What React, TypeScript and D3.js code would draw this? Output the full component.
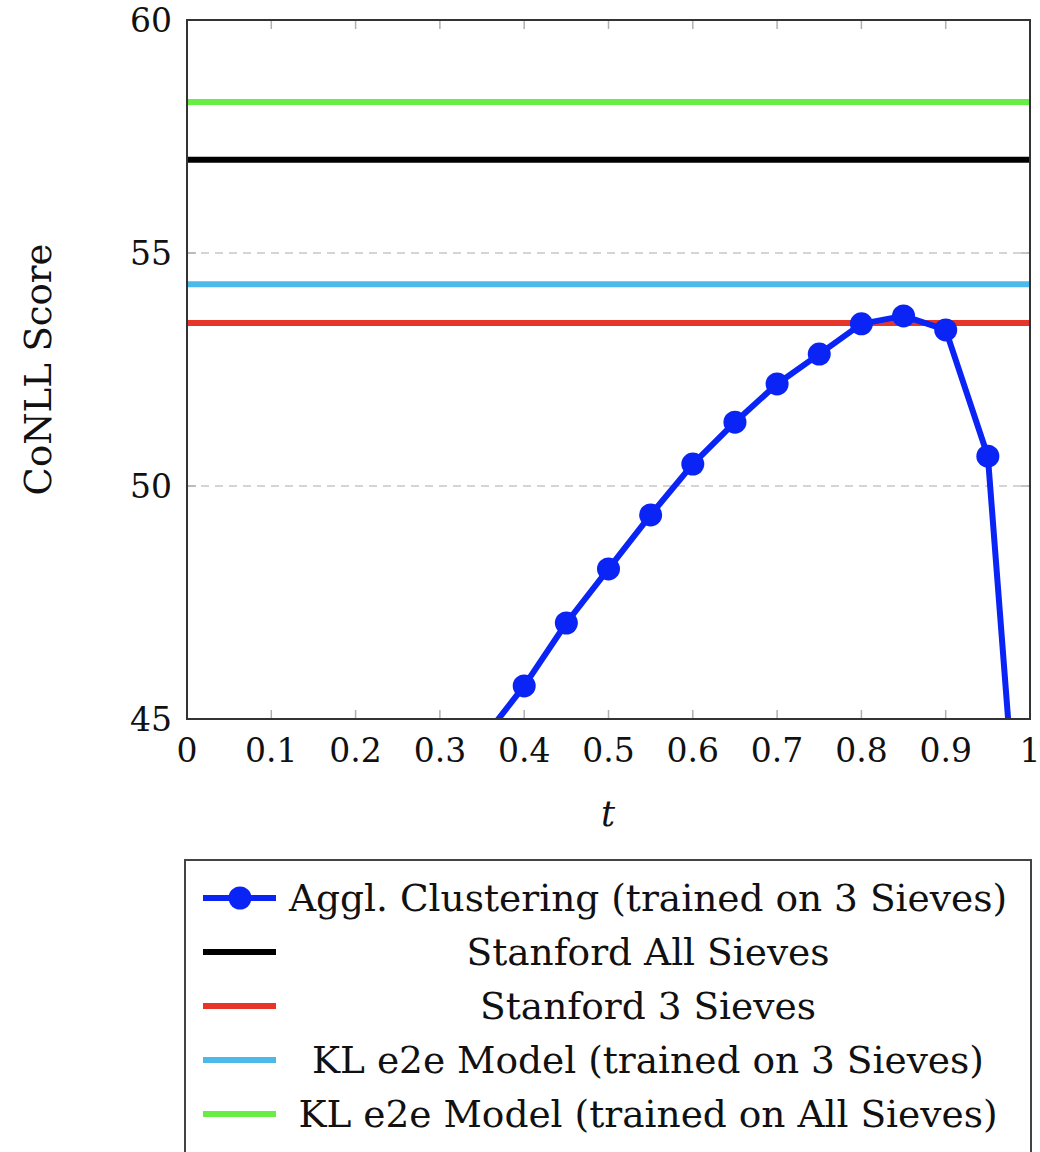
import React from "react";
import * as d3 from "d3";

const tValues = [0.3, 0.35, 0.4, 0.45, 0.5, 0.55, 0.6, 0.65, 0.7, 0.75, 0.8, 0.85, 0.9, 0.95, 1.0];
const agglScores = [43.3, 44.55, 45.71, 47.06, 48.22, 49.38, 50.47, 51.37, 52.19, 52.83, 53.48, 53.65, 53.35, 50.64, 38.9];

const baselineNames = [
  "Stanford All Sieves",
  "Stanford 3 Sieves",
  "KL e2e Model (trained on 3 Sieves)",
  "KL e2e Model (trained on All Sieves)",
];
const baselineValues = [57.0, 53.5, 54.33, 58.24];
const baselineColors = ["#000000", "#e8352a", "#4db8ea", "#66ee44"];

const agglName = "Aggl. Clustering (trained on 3 Sieves)";
const agglColor = "#0a24f5";

const xTicks = [0, 0.1, 0.2, 0.3, 0.4, 0.5, 0.6, 0.7, 0.8, 0.9, 1];
const yTicks = [45, 50, 55, 60];
const gridValues = [50, 55];

const FONT = "DejaVu Serif";

export default function App() {
  const W = 1040, H = 1152;
  const left = 187, right = 1030, top = 20, bottom = 719;
  const x = d3.scaleLinear().domain([0, 1]).range([left, right]);
  const y = d3.scaleLinear().domain([45, 60]).range([bottom, top]);
  const line = d3.line<number>().x((_, i) => x(tValues[i])).y((d) => y(d));
  const pathD = line(agglScores) || "";

  const legendItems = [
    { name: agglName, color: agglColor, marker: true },
    ...baselineNames.map((n, i) => ({ name: n, color: baselineColors[i], marker: false })),
  ];
  const legendY0 = 898;
  const legendStep = 54;
  const ts = { fontFamily: FONT };

  return (
    <svg width={W} height={H} style={{ position: "absolute", left: 0, top: 0, background: "#fff" }}>
      <defs>
        <clipPath id="plotclip">
          <rect x={left} y={top} width={right - left} height={bottom - top} />
        </clipPath>
      </defs>
      {gridValues.map((v) => (
        <line key={"g" + v} x1={left} x2={right} y1={y(v)} y2={y(v)} stroke="#c8c8c8" strokeWidth={1.5} strokeDasharray="8,6" />
      ))}
      {xTicks.slice(1, -1).map((t) => (
        <g key={"xt" + t} stroke="#b0b0b0" strokeWidth={1.5}>
          <line x1={x(t)} x2={x(t)} y1={bottom} y2={bottom - 9} />
          <line x1={x(t)} x2={x(t)} y1={top} y2={top + 9} />
        </g>
      ))}
      {yTicks.slice(1, -1).map((v) => (
        <g key={"yt" + v} stroke="#b0b0b0" strokeWidth={1.5}>
          <line x1={left} x2={left + 9} y1={y(v)} y2={y(v)} />
          <line x1={right} x2={right - 9} y1={y(v)} y2={y(v)} />
        </g>
      ))}
      <g clipPath="url(#plotclip)">
        {baselineValues.map((v, i) => (
          <line key={"b" + i} x1={left} x2={right} y1={y(v)} y2={y(v)} stroke={baselineColors[i]} strokeWidth={6} />
        ))}
        <path d={pathD} fill="none" stroke={agglColor} strokeWidth={6} strokeLinejoin="round" />
        {agglScores.map((v, i) => (
          <circle key={"p" + i} cx={x(tValues[i])} cy={y(v)} r={11.5} fill={agglColor} />
        ))}
      </g>
      <rect x={left} y={top} width={right - left} height={bottom - top} fill="none" stroke="#333" strokeWidth={2} />
      {xTicks.map((t) => (
        <text key={"xl" + t} style={ts} x={x(t)} y={762} textAnchor="middle" fontSize={33} fill="#111">
          {t === 0 || t === 1 ? String(t) : t.toFixed(1)}
        </text>
      ))}
      {yTicks.map((v) => (
        <text key={"yl" + v} style={ts} x={172} y={y(v) + 12} textAnchor="end" fontSize={33} fill="#111">
          {v}
        </text>
      ))}
      <text style={ts} x={608} y={826} textAnchor="middle" fontSize={35} fontStyle="italic" fill="#111">t</text>
      <text style={ts} transform={`translate(51,${(top + bottom) / 2}) rotate(-90)`} textAnchor="middle" fontSize={37} fill="#111">
        CoNLL Score
      </text>
      <rect x={185} y={860} width={846} height={310} fill="#fff" stroke="#444" strokeWidth={2} />
      {legendItems.map((it, i) => {
        const ly = legendY0 + i * legendStep;
        return (
          <g key={"lg" + i}>
            <line x1={203} x2={276} y1={ly} y2={ly} stroke={it.color} strokeWidth={6} />
            {it.marker && <circle cx={240} cy={ly} r={11.5} fill={it.color} />}
            <text style={ts} x={648} y={ly + 13} textAnchor="middle" fontSize={37.5} fill="#111">{it.name}</text>
          </g>
        );
      })}
    </svg>
  );
}
